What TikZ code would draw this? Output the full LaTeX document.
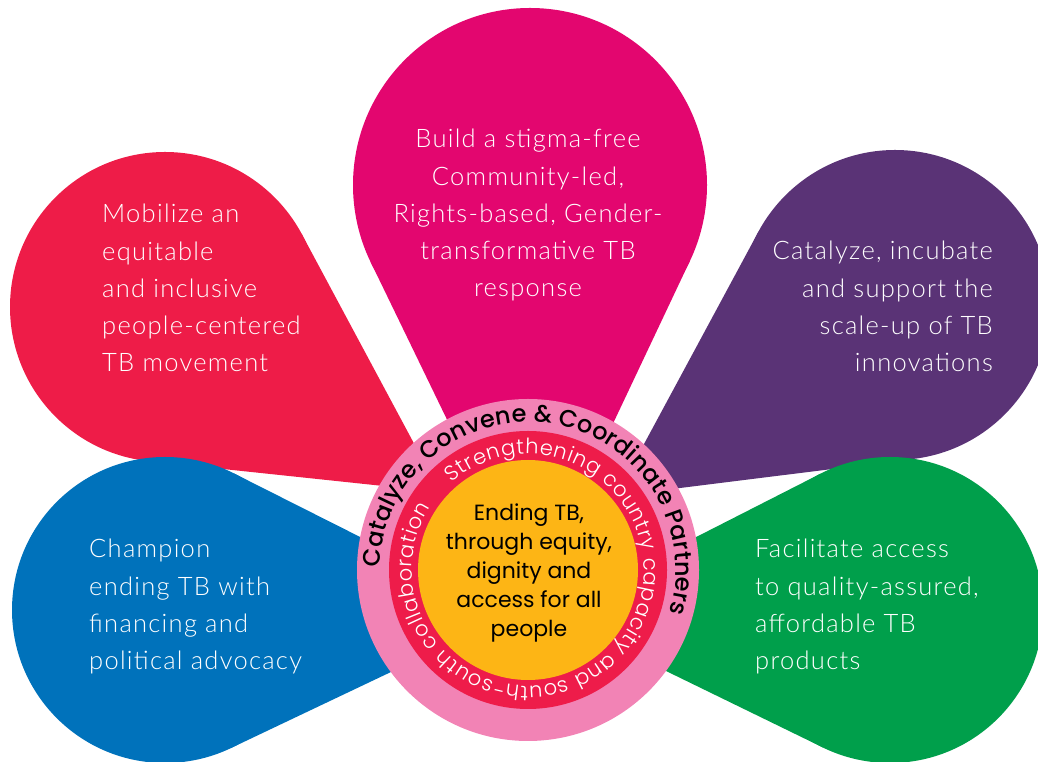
\documentclass[tikz,border=0pt]{standalone}
\usepackage{fontspec}
\usetikzlibrary{calc,decorations.text}
\newfontfamily\petalfont{Lato Light}[LetterSpace=5]
\newfontfamily\poppins{Poppins}
\newfontfamily\poppinsmed{Poppins Medium}
\newfontfamily\poppinslight{Poppins Light}
\definecolor{cred}{HTML}{EE1C48}
\definecolor{cmag}{HTML}{E3066F}
\definecolor{cpur}{HTML}{5A3376}
\definecolor{cblue}{HTML}{0072BB}
\definecolor{cgreen}{HTML}{009F4B}
\definecolor{cpink}{HTML}{F283B5}
\definecolor{cring}{HTML}{EE1C4A}
\definecolor{corange}{HTML}{FDB515}
\newcommand\drawpetal[3]{%
  \fill[#2] (#3) -- (tangent cs:node=#1,point={(#3)},solution=1) -- (#1.center)
    -- (tangent cs:node=#1,point={(#3)},solution=2) -- cycle;}
\tikzset{
  petal/.style={circle, inner sep=0pt, outer sep=0pt, draw=none},
  ptext/.style={text=white, inner sep=0pt, font=\petalfont\fontsize{25.5}{37.3}\selectfont},
  disc/.style={circle, inner sep=0pt, outer sep=0pt, draw=none},
}
\begin{document}
\begin{tikzpicture}[x=1pt,y=1pt]
\useasboundingbox (0,0) rectangle (1038,762);
\clip (0,0) rectangle (1038,762);
% petals
\node[petal, fill=cred, minimum size=310pt] (pred) at (165,455) {};
\coordinate (tred) at (440,270);
\drawpetal{pred}{cred}{tred}
\node[petal, fill=cmag, minimum size=354pt] (pmag) at (530,577) {};
\coordinate (tmag) at (532,167);
\drawpetal{pmag}{cmag}{tmag}
\node[petal, fill=cpur, minimum size=310pt] (ppur) at (895,457) {};
\coordinate (tpur) at (616,266);
\drawpetal{ppur}{cpur}{tpur}
\node[petal, fill=cblue, minimum size=306pt] (pblue) at (165,152) {};
\coordinate (tblue) at (513,148);
\drawpetal{pblue}{cblue}{tblue}
\node[petal, fill=cgreen, minimum size=306pt] (pgreen) at (890,152) {};
\coordinate (tgreen) at (547,149);
\drawpetal{pgreen}{cgreen}{tgreen}
% petal texts
\node[ptext, anchor=north west, align=left] (xred) at (102,558)
  {Mobilize an\\equitable\\and inclusive\\people-centered\\TB movement};
\node[ptext, anchor=north, align=center] (xmag) at (528,633)
  {Build a stigma-free\\Community-led,\\Rights-based, Gender-\\transformative TB\\response};
\node[ptext, anchor=north east, align=right] (xpur) at (993,521)
  {Catalyze, incubate\\and support the\\scale-up of TB\\innovations};
\node[ptext, anchor=north west, align=left] (xblue) at (89,223)
  {Champion\\ending TB with\\financing and\\political advocacy};
\node[ptext, anchor=north west, align=left] (xgreen) at (755,223)
  {Facilitate access\\to quality-assured,\\affordable TB\\products};
% centre
\node[disc, fill=cpink, minimum size=342pt] (ring) at (528,192) {};
\node[disc, fill=cring, minimum size=278pt] (band) at (528,192) {};
\node[disc, fill=corange, minimum size=220pt] (core) at (528,192) {};
\path[decorate, decoration={text along path, text align={fit to path},
  text={|\poppinsmed\fontsize{24}{24}\selectfont|Catalyze, Convene {\&} Coordinate Partners}}]
  (core.center) ++(179:148) arc[start angle=179, end angle=-17, radius=148];
\path[decorate, decoration={text along path, text align={fit to path},
  text={|\poppinslight\fontsize{21}{21}\selectfont\color{white}|Strengthening country capacity and south-south collaboration}}]
  (core.center) ++(131:116) arc[start angle=131, end angle=-213, radius=116];
\node[font=\poppins\fontsize{22}{28.8}\selectfont, align=center, anchor=north, inner sep=0pt] (ctext) at (529,258)
  {Ending TB,\\through equity,\\dignity and\\access for all\\people};
\end{tikzpicture}
\end{document}
